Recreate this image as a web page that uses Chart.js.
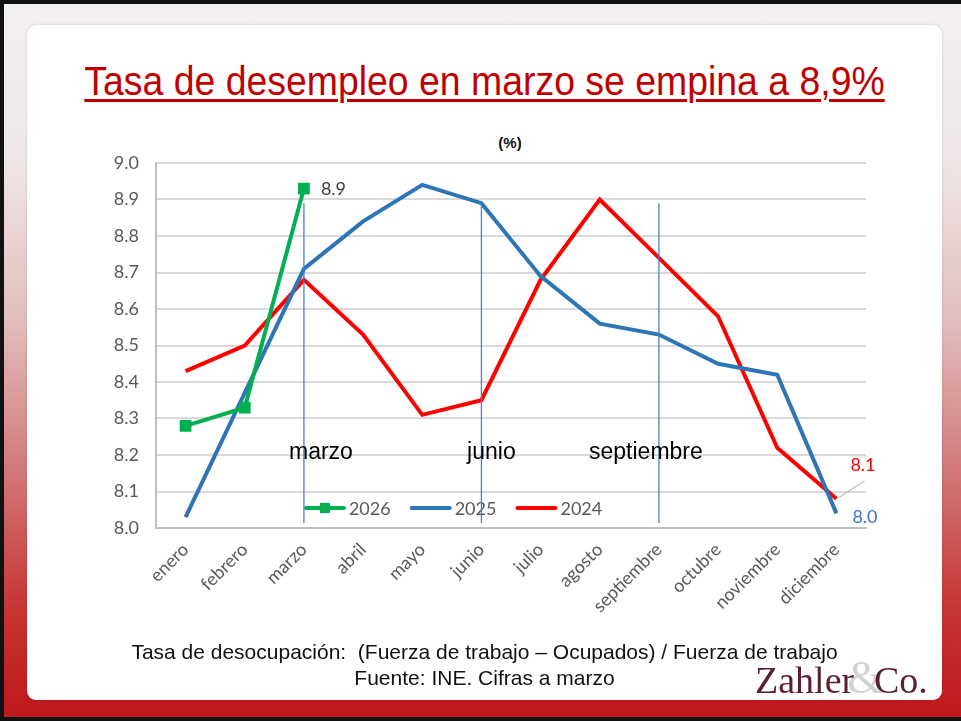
<!DOCTYPE html>
<html>
<head>
<meta charset="utf-8">
<script src="https://cdn.jsdelivr.net/npm/chart.js@4.4.1/dist/chart.umd.min.js"></script>
<style>
  html, body { margin: 0; padding: 0; }
  body { width: 961px; height: 721px; overflow: hidden; }
  #page {
    position: relative;
    width: 961px;
    height: 721px;
    box-sizing: border-box;
    border-top: 4px solid #111;
    border-left: 4px solid #111;
    border-bottom: 4px solid #111;
    background: linear-gradient(to bottom, #f3f0f0 0%, #efe7e7 22%, #e2bcbc 45%, #d27a7a 65%, #c63434 85%, #c0181c 100%);
  }
  #panel {
    position: absolute;
    left: 23px; top: 21px;
    width: 915px; height: 675px;
    background: #fff;
    border-radius: 9px;
    box-shadow: 0 0 3px rgba(0,0,0,0.15);
  }
  #title {
    position: absolute;
    left: 0; top: 55px; width: 961px;
    text-align: center;
    font-family: "Liberation Sans", sans-serif;
    font-size: 40px;
    color: #c00000;
    text-decoration: underline;
    text-decoration-thickness: 3px;
    text-underline-offset: 4px;
    transform: scaleX(0.935);
  }
  #unit {
    position: absolute;
    left: 476px; top: 130px; width: 60px;
    text-align: center;
    font-family: "Liberation Sans", sans-serif;
    font-weight: bold;
    font-size: 15px;
    color: #111;
  }
  .foot {
    position: absolute;
    left: 0; width: 961px;
    text-align: center;
    font-family: "Liberation Sans", sans-serif;
    font-size: 21px;
    color: #111;
  }
  #logo {
    position: absolute;
    left: 751px; top: 653px;
    font-family: "Liberation Serif", serif;
    font-size: 38px;
    line-height: 42px;
    color: #5b1f2e;
    white-space: nowrap;
  }
  #logo .amp { color: #d2d2d2; font-size: 46px; margin: 0 -9px 0 -7px; }
  #chart { position: absolute; left: 0; top: 0; }
</style>
</head>
<body>
<div id="page">
  <div id="panel"></div>
  <div id="title">Tasa de desempleo en marzo se empina a 8,9%</div>
  <div id="unit">(%)</div>
  <canvas id="chart" width="961" height="721"></canvas>
  <div class="foot" style="top:636px">Tasa de desocupación:&nbsp; (Fuerza de trabajo – Ocupados) / Fuerza de trabajo</div>
  <div class="foot" style="top:662px">Fuente: INE. Cifras a marzo</div>
  <div id="logo">Zahler<span class="amp">&amp;</span>Co.</div>
</div>
<script>
const months = ['enero', 'febrero', 'marzo', 'abril', 'mayo', 'junio', 'julio',
  'agosto', 'septiembre', 'octubre', 'noviembre', 'diciembre'];
const serie2026 = [8.28, 8.33, 8.93];
const serie2025 = [8.03, 8.37, 8.71, 8.84, 8.94, 8.89, 8.69, 8.56, 8.53, 8.45, 8.42, 8.04];
const serie2024 = [8.43, 8.50, 8.68, 8.53, 8.31, 8.35, 8.68, 8.90, 8.74, 8.58, 8.22, 8.08];
const yMin = 8.0;
const yMax = 9.0;
const yStep = 0.1;
const quarterMonths = ['marzo', 'junio', 'septiembre'];
const quarterTop = 8.89;
const labelLevel = 8.2;

const overlay = {
  id: 'overlay',
  afterDatasetsDraw(chart) {
    const ctx = chart.ctx;
    const x = chart.scales.x;
    const y = chart.scales.y;
    const area = chart.chartArea;
    ctx.save();

    // legend inside the plot, starting at the marzo column
    let lx = x.getPixelForValue(2);
    const ly = area.bottom - 20;
    ctx.font = '18px Lato, sans-serif';
    ctx.textBaseline = 'middle';
    chart.data.datasets.forEach((ds) => {
      ctx.strokeStyle = ds.borderColor;
      ctx.lineWidth = 4;
      ctx.lineCap = 'round';
      ctx.beginPath();
      ctx.moveTo(lx + 2, ly);
      ctx.lineTo(lx + 40, ly);
      ctx.stroke();
      if (ds.pointRadius > 0) {
        ctx.fillStyle = ds.borderColor;
        ctx.fillRect(lx + 16, ly - 5, 10, 10);
      }
      ctx.fillStyle = '#595959';
      ctx.textAlign = 'left';
      ctx.fillText(ds.label, lx + 45, ly + 1);
      lx += 45 + ctx.measureText(ds.label).width + 19;
    });

    // quarter markers
    ctx.strokeStyle = '#4a7fd0';
    ctx.lineWidth = 1.3;
    ctx.lineCap = 'butt';
    const offsets = [17, 10, -13];
    quarterMonths.forEach((m, i) => {
      const px = x.getPixelForValue(months.indexOf(m));
      ctx.beginPath();
      ctx.moveTo(px, y.getPixelForValue(quarterTop));
      ctx.lineTo(px, area.bottom - 5);
      ctx.stroke();
      ctx.fillStyle = '#000';
      ctx.font = '23px "Liberation Sans", sans-serif';
      ctx.textAlign = 'center';
      ctx.fillText(m, px + offsets[i], y.getPixelForValue(labelLevel) - 2);
    });

    // value labels
    ctx.font = '18px Lato, sans-serif';
    ctx.textAlign = 'left';
    const g = chart.getDatasetMeta(0).data[serie2026.length - 1];
    ctx.fillStyle = '#404040';
    ctx.fillText(serie2026[serie2026.length - 1].toFixed(1), g.x + 17, g.y + 1);

    const r = chart.getDatasetMeta(2).data[11];
    const b = chart.getDatasetMeta(1).data[11];
    ctx.strokeStyle = '#a6a6a6';
    ctx.lineWidth = 1;
    ctx.beginPath();
    ctx.moveTo(r.x + 2, r.y - 1);
    ctx.lineTo(r.x + 28, r.y - 18);
    ctx.stroke();
    ctx.fillStyle = '#ff0000';
    ctx.fillText(serie2024[11].toFixed(1), r.x + 14, r.y - 34);
    ctx.fillStyle = '#4472c4';
    ctx.fillText(serie2025[11].toFixed(1), b.x + 16, b.y + 4);
    ctx.restore();
  }
};

new Chart(document.getElementById('chart'), {
  type: 'line',
  data: {
    labels: months,
    datasets: [
      {
        label: '2026',
        data: serie2026,
        borderColor: '#00b050',
        backgroundColor: '#00b050',
        borderWidth: 4,
        pointStyle: 'rect',
        pointRadius: 5.5,
        pointHoverRadius: 5.5,
        tension: 0,
      },
      {
        label: '2025',
        data: serie2025,
        borderColor: '#2e75b6',
        borderWidth: 4,
        pointRadius: 0,
        tension: 0,
      },
      {
        label: '2024',
        data: serie2024,
        borderColor: '#ff0000',
        borderWidth: 4,
        pointRadius: 0,
        tension: 0,
      },
    ],
  },
  options: {
    responsive: false,
    animation: false,
    layout: { padding: { left: 96, top: 159, right: 99, bottom: 97 } },
    plugins: {
      legend: { display: false },
      tooltip: { enabled: false },
    },
    scales: {
      x: {
        offset: true,
        grid: { display: false, drawTicks: false },
        border: { color: '#bfbfbf', width: 2 },
        ticks: {
          minRotation: 45,
          maxRotation: 45,
          padding: 11,
          color: '#595959',
          font: { family: 'Lato, sans-serif', size: 18 },
        },
        afterFit(scale) { scale.height = 100; },
      },
      y: {
        min: yMin,
        max: yMax,
        grid: { color: '#d9d9d9', lineWidth: 2, drawTicks: false },
        border: { color: '#bfbfbf', width: 2 },
        ticks: {
          stepSize: yStep,
          padding: 17,
          color: '#595959',
          font: { family: 'Lato, sans-serif', size: 18 },
          callback: (v) => v.toFixed(1),
        },
        afterFit(scale) { scale.width = 56; },
      },
    },
  },
  plugins: [overlay],
});
</script>
</body>
</html>
